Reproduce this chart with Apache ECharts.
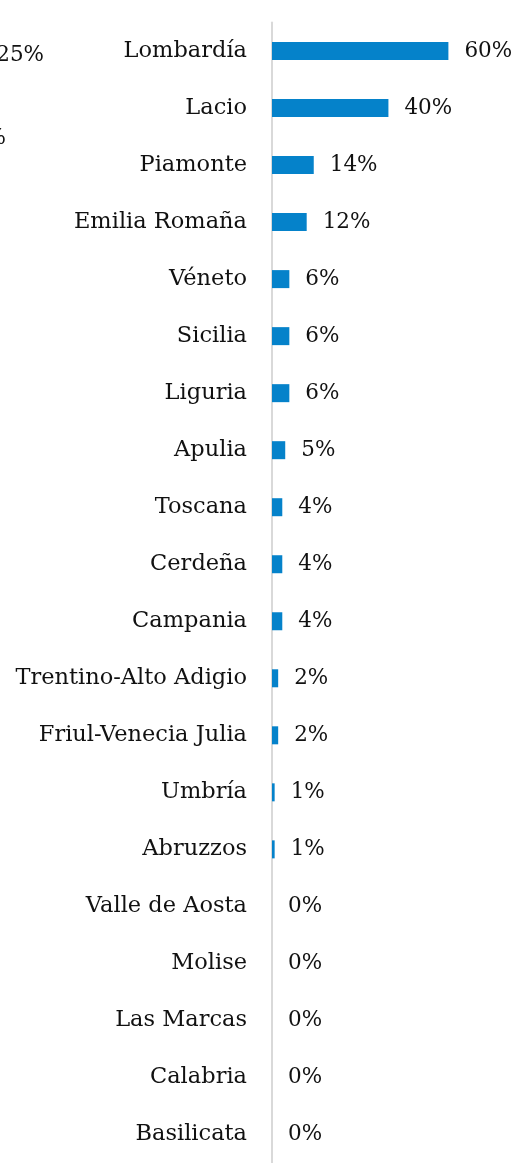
<!DOCTYPE html>
<html>
<head>
<meta charset="utf-8">
<script src="https://cdn.jsdelivr.net/npm/echarts@6/dist/echarts.min.js"></script>
<style>
html,body{margin:0;padding:0;background:#fff;}
#chart{width:516px;height:1163px;}
</style>
</head>
<body>
<div id="chart"></div>
<script>
const categories = ["Lombardía","Lacio","Piamonte","Emilia Romaña","Véneto","Sicilia","Liguria","Apulia","Toscana","Cerdeña","Campania","Trentino-Alto Adigio","Friul-Venecia Julia","Umbría","Abruzzos","Valle de Aosta","Molise","Las Marcas","Calabria","Basilicata"];
const values = [60, 39.6, 14.2, 11.8, 5.9, 5.9, 5.9, 4.5, 3.5, 3.5, 3.5, 2.1, 2.1, 0.9, 0.9, 0, 0, 0, 0, 0];
const fragmentLabels = ["25%", "%"];

const FONT = "'DejaVu Serif', serif";
const chart = echarts.init(document.getElementById('chart'), null, {renderer:'canvas'});
chart.setOption({
  animation: false,
  backgroundColor: '#fff',
  grid: {left: 272, top: 22.5, width: 176.4/60*80, height: 1145, containLabel: false},
  xAxis: {type: 'value', min: 0, max: 80, show: false},
  yAxis: {
    type: 'category', data: categories, inverse: true,
    axisLine: {show: true, lineStyle: {color: '#d9d9d9', width: 2}},
    axisTick: {show: false},
    axisLabel: {color: '#111', fontFamily: FONT, fontSize: 22.5, margin: 25, padding: [4, 0, 0, 0]}
  },
  series: [{
    type: 'bar', data: values, barWidth: 18,
    itemStyle: {color: '#0582CA'},
    label: {show: true, position: 'right', distance: 16, color: '#111', fontFamily: FONT, fontSize: 21.5,
      padding: [4, 0, 0, 0],
      formatter: p => Math.round(p.value) + '%'}
  }],
  graphic: [
    {type: 'text', x: 44, y: 55, style: {text: fragmentLabels[0], font: '21.5px ' + FONT, fill: '#111', textAlign: 'right', textVerticalAlign: 'middle'}},
    {type: 'text', x: 6, y: 138, style: {text: fragmentLabels[1], font: '21.5px ' + FONT, fill: '#111', textAlign: 'right', textVerticalAlign: 'middle'}}
  ]
});
</script>
</body>
</html>
